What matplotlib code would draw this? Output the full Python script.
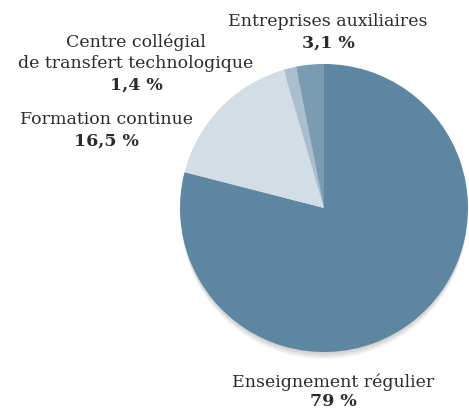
import matplotlib.pyplot as plt
from matplotlib.patches import Circle

# Données
labels = ["Enseignement régulier", "Formation continue",
          "Centre collégial\nde transfert technologique", "Entreprises auxiliaires"]
values = [79.0, 16.5, 1.4, 3.1]
pct_labels = ["79 %", "16,5 %", "1,4 %", "3,1 %"]
colors = ["#5d86a1", "#d3dde6", "#a9bfcf", "#7a9bb2"]

W, H = 469, 412
fig = plt.figure(figsize=(W / 100, H / 100), dpi=100)
plt.rcParams['font.family'] = ['DejaVu Serif']

ax = fig.add_axes([180 / W, 60 / H, 288 / W, 288 / H])
ax.set_aspect("equal")
ax.axis("off")

# ombre douce sous le disque
for i in range(6):
    ax.add_patch(Circle((0.0, -0.015 - 0.008 * i), 0.995, color="black",
                        alpha=0.03, lw=0, zorder=0, clip_on=False))

ax.pie(values, colors=colors, startangle=90, counterclock=False, radius=1.0,
       wedgeprops=dict(linewidth=0), frame=False)
ax.set_xlim(-1.0, 1.0)
ax.set_ylim(-1.0, 1.0)

txt_color = "#2b2b2b"

def put(x, y, s, bold=False):
    fig.text(x / W, 1 - y / H, s, ha="center", va="center", fontsize=12.5,
             color=txt_color, fontweight="bold" if bold else "normal")

put(328, 22, "Entreprises auxiliaires")
put(328, 43, pct_labels[3], bold=True)
put(136, 42, "Centre collégial")
put(136, 63, "de transfert technologique")
put(136, 85, pct_labels[2], bold=True)
put(106, 120, "Formation continue")
put(106, 141, pct_labels[1], bold=True)
put(333, 382, labels[0])
put(333, 401, pct_labels[0], bold=True)

fig.savefig("out.png", dpi=100)
